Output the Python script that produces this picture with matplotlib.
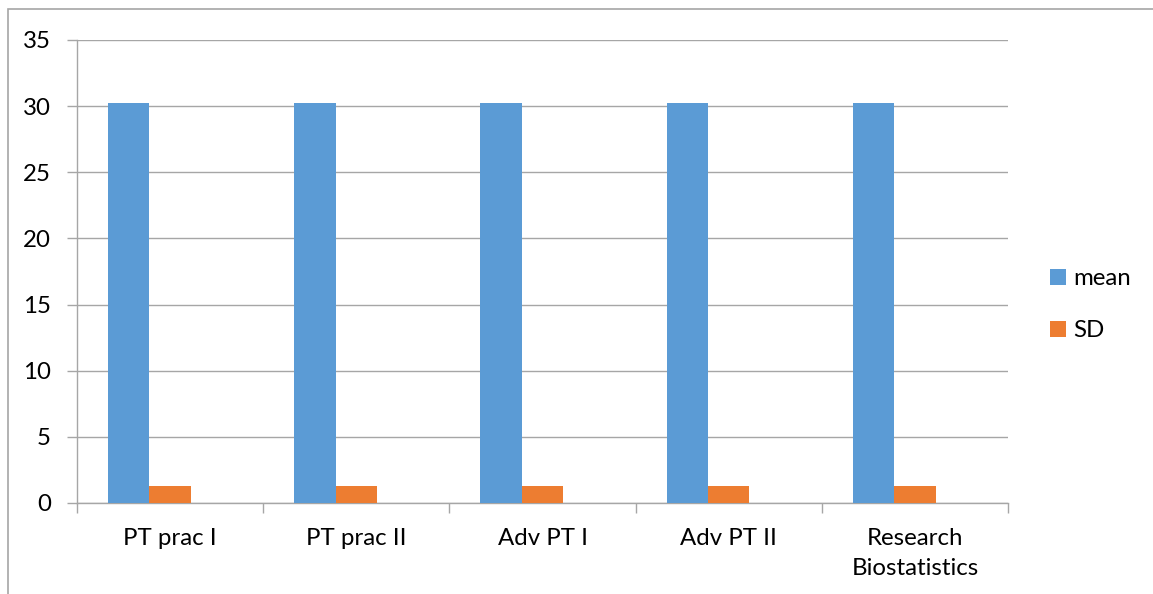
import matplotlib
matplotlib.use("Agg")
import matplotlib.pyplot as plt
from matplotlib.patches import Rectangle
import numpy as np

categories = ["PT prac I", "PT prac II", "Adv PT I", "Adv PT II", "Research\nBiostatistics"]
mean_vals = [30.2, 30.2, 30.2, 30.2, 30.2]
sd_vals = [1.3, 1.3, 1.3, 1.3, 1.3]
y_ticks = [0, 5, 10, 15, 20, 25, 30, 35]

BLUE = "#5B9BD5"
ORANGE = "#ED7D31"
GREY = "#A6A6A6"

plt.rcParams["font.family"] = ["Lato", "DejaVu Sans"]

fig = plt.figure(figsize=(11.53, 5.94), dpi=100)
ax = fig.add_axes([0.0668, 0.1532, 0.8075, 0.7795])

x = np.arange(len(categories))
w = 1 / 4.5  # three series slots (third empty) plus gap
ax.bar(x - w, mean_vals, width=w, color=BLUE, label="mean", edgecolor="none", zorder=3)
ax.bar(x, sd_vals, width=w, color=ORANGE, label="SD", edgecolor="none", zorder=3)

ax.set_xlim(-0.5, len(categories) - 0.5)
ax.set_ylim(0, 35)
ax.set_yticks(y_ticks)
ax.yaxis.grid(True, color=GREY, linewidth=1.0, zorder=0)
ax.set_axisbelow(True)

ax.set_xticks(x)
ax.set_xticklabels(categories, fontsize=17.3, linespacing=1.55)
ax.tick_params(axis="x", which="major", length=0, pad=18)
ax.set_xticks(np.arange(-0.5, len(categories)), minor=True)
ax.tick_params(axis="x", which="minor", length=7, color=GREY, width=1)
ax.tick_params(axis="y", length=7, color=GREY, width=1, labelsize=17.3, pad=12)

for side in ["top", "right"]:
    ax.spines[side].set_visible(False)
for side in ["left", "bottom"]:
    ax.spines[side].set_color(GREY)
    ax.spines[side].set_linewidth(1.0)

leg = ax.legend(loc="center left", bbox_to_anchor=(1.022, 0.428), frameon=False,
                fontsize=17.3, handlelength=0.65, handleheight=0.65,
                handletextpad=0.3, labelspacing=1.3)

# outer chart-area border (clipped at right/bottom in the reference)
fig.patches.append(Rectangle((8 / 1153, -0.05), 1.1, (594 - 9) / 594 + 0.05,
                             transform=fig.transFigure, fill=False,
                             edgecolor=GREY, linewidth=1.2))

fig.savefig("out.png", dpi=100)
